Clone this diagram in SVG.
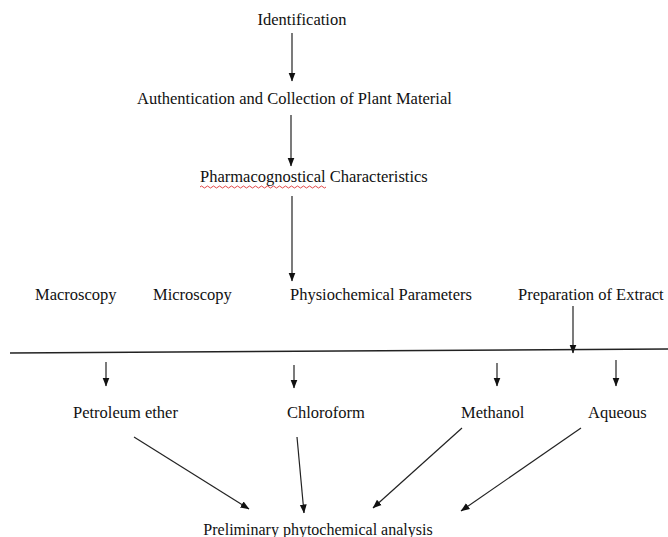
<svg xmlns="http://www.w3.org/2000/svg" width="668" height="537" viewBox="0 0 668 537">
<style>
text{font-family:"Liberation Serif","Times New Roman",serif;font-size:16.5px;fill:#111}
.c line{stroke:#222;stroke-width:1.2}
</style>
<defs>
<marker id="ah" markerWidth="9" markerHeight="8" refX="8.5" refY="4" orient="auto" markerUnits="userSpaceOnUse">
<path d="M0,0.5 L9,4 L0,7.5 z" fill="#111"/>
</marker>
</defs>
<rect width="668" height="537" fill="#fff"/>
<g id="n-identification"><text x="302" y="25" text-anchor="middle">Identification</text></g>
<g id="n-authentication"><text x="137" y="104">Authentication and Collection of Plant Material</text></g>
<g id="n-pharmacognostical"><text x="200" y="182">Pharmacognostical Characteristics</text>
<path d="M200,187 q1.5,-2 3,0 t3,0 t3,0 t3,0 t3,0 t3,0 t3,0 t3,0 t3,0 t3,0 t3,0 t3,0 t3,0 t3,0 t3,0 t3,0 t3,0 t3,0 t3,0 t3,0 t3,0 t3,0 t3,0 t3,0 t3,0 t3,0 t3,0 t3,0 t3,0 t3,0 t3,0 t3,0 t3,0 t3,0 t3,0 t3,0 t3,0 t3,0 t3,0 t3,0 t3,0 t3,0" fill="none" stroke="#d33" stroke-width="0.9"/></g>
<g id="n-macroscopy"><text x="35" y="300">Macroscopy</text></g>
<g id="n-microscopy"><text x="153" y="300">Microscopy</text></g>
<g id="n-physiochemical"><text x="290" y="300">Physiochemical Parameters</text></g>
<g id="n-preparation"><text x="518" y="300">Preparation of Extract</text></g>
<g id="n-petroleum"><text x="73" y="418">Petroleum ether</text></g>
<g id="n-chloroform"><text x="287" y="418">Chloroform</text></g>
<g id="n-methanol"><text x="461" y="418">Methanol</text></g>
<g id="n-aqueous"><text x="588" y="418">Aqueous</text></g>
<g id="n-preliminary"><text x="318" y="535" text-anchor="middle" style="font-size:16px">Preliminary phytochemical analysis</text></g>
<g id="connectors" class="c">
<line x1="292" y1="33" x2="292" y2="81" marker-end="url(#ah)"/>
<line x1="291" y1="115" x2="291" y2="166" marker-end="url(#ah)"/>
<line x1="292" y1="196" x2="292" y2="281" marker-end="url(#ah)"/>
<line x1="573" y1="306" x2="573" y2="353" marker-end="url(#ah)"/>
<line x1="10" y1="353" x2="668" y2="349" style="stroke-width:1.4"/>
<line x1="106" y1="362" x2="106" y2="386" marker-end="url(#ah)"/>
<line x1="294" y1="365" x2="294" y2="388" marker-end="url(#ah)"/>
<line x1="497" y1="363" x2="497" y2="386" marker-end="url(#ah)"/>
<line x1="616" y1="360" x2="616" y2="386" marker-end="url(#ah)"/>
<line x1="134" y1="437" x2="249" y2="509" marker-end="url(#ah)"/>
<line x1="297" y1="437" x2="304" y2="513" marker-end="url(#ah)"/>
<line x1="462" y1="428" x2="373" y2="508" marker-end="url(#ah)"/>
<line x1="581" y1="428" x2="461" y2="511" marker-end="url(#ah)"/>
</g>
</svg>
